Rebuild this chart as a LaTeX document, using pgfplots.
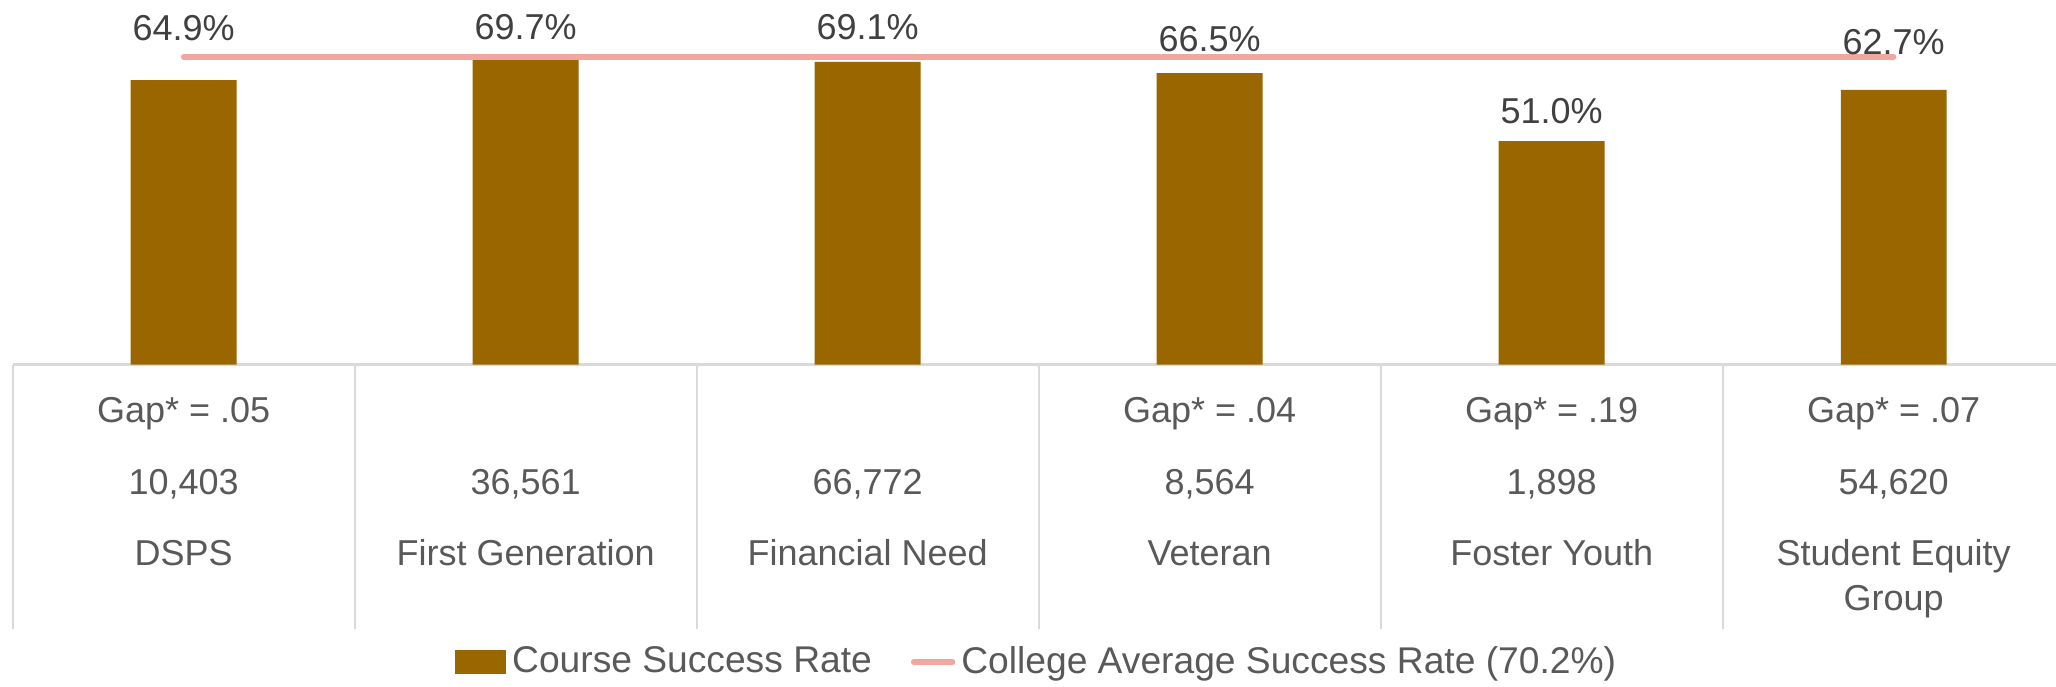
\documentclass[border=0pt]{standalone}
\usepackage{pgfplots}
\pgfplotsset{compat=1.18}
\usepackage{fontspec}
\setmainfont{Liberation Sans}
\definecolor{barc}{HTML}{996600}
\definecolor{linec}{HTML}{F2A6A0}
\definecolor{gridc}{HTML}{D9D9D9}
\definecolor{txt}{HTML}{595959}
\definecolor{lbl}{HTML}{404040}
\begin{document}
\begin{tikzpicture}
\begin{axis}[
  width=684pt, height=121.5pt, scale only axis,
  xmin=-0.5, xmax=5.5, ymin=0, ymax=83.2,
  axis y line=none,
  axis x line*=bottom,
  x axis line style={-, draw=gridc, line width=0.7pt},
  xtick={0,1,2,3,4,5},
  major tick length=0pt,
  tick align=outside,
  tick style={draw=gridc, line width=0.7pt},
  extra x ticks={-0.5,0.5,1.5,2.5,3.5,4.5},
  extra x tick labels={},
  extra x tick style={major tick length=88.3pt, tick align=outside},
  xticklabels={
    {\strut Gap* = .05\\[9.7pt]10,403\\[9.3pt]DSPS},
    {\strut\\[9.7pt]36,561\\[9.3pt]First Generation},
    {\strut\\[9.7pt]66,772\\[9.3pt]Financial Need},
    {\strut Gap* = .04\\[9.7pt]8,564\\[9.3pt]Veteran},
    {\strut Gap* = .19\\[9.7pt]1,898\\[9.3pt]Foster Youth},
    {\strut Gap* = .07\\[9.7pt]54,620\\[9.3pt]Student Equity\\[0.8pt]Group}},
  xticklabel style={align=center, anchor=north, inner sep=0pt, yshift=-9.2pt,
    font=\fontsize{12}{14.3}\selectfont, text=txt},
  clip=false,
  legend style={at={(0.5,-0.816)}, anchor=center, draw=none, fill=none,
    font=\fontsize{12.4}{14.5}\selectfont, text=txt, legend columns=2,
    /tikz/every even column/.append style={column sep=11pt}},
  legend cell align=left,
]
\addplot[ybar, bar width=35.3pt, fill=barc, draw=none,
  legend image code/.code={\fill[barc] (0pt,-4pt) rectangle (17pt,4pt);}]
  coordinates {(0,64.9) (1,69.7) (2,69.1) (3,66.5) (4,51.0) (5,62.7)};
\addlegendentry{Course Success Rate}
\addplot[linec, line width=1.8pt, line cap=round, mark=none,
  legend image code/.code={\draw[linec, line width=1.8pt, line cap=round] (0pt,0pt) -- (13pt,0pt);}]
  coordinates {(0,70.2) (5,70.2)};
\addlegendentry{College Average Success Rate (70.2\%)}
\addplot[draw=none, mark=none, forget plot, nodes near coords,
  point meta=explicit symbolic,
  nodes near coords style={anchor=center, font=\fontsize{12}{14}\selectfont, text=lbl}]
  coordinates {(0,76.7)[64.9\%] (1,77.0)[69.7\%] (2,77.0)[69.1\%] (3,74.3)[66.5\%] (4,57.8)[51.0\%] (5,73.5)[62.7\%]};
\end{axis}
\pgfresetboundingbox
\path[use as bounding box] ([xshift=-4.2pt]current axis.north west) rectangle ([xshift=-2.9pt,yshift=-107.2pt]current axis.south east);
\end{tikzpicture}
\end{document}
